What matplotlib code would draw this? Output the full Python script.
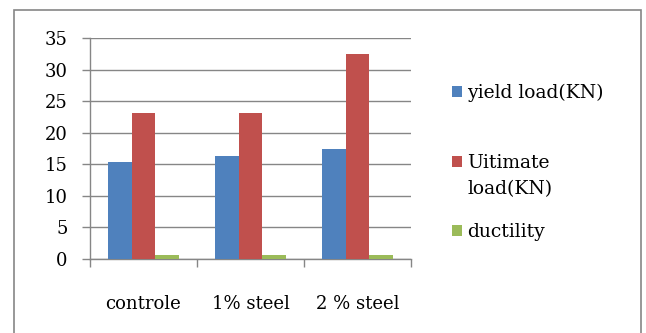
import matplotlib
matplotlib.use("Agg")
import matplotlib.pyplot as plt
from matplotlib.patches import Rectangle
import numpy as np

categories = ["controle", "1% steel", "2 % steel"]
yield_load = [15.3, 16.3, 17.5]
ultimate_load = [23.2, 23.2, 32.5]
ductility = [0.7, 0.7, 0.7]
series_labels = ["yield load(KN)", "Uitimate", "ductility"]

blue = "#4F81BD"
red = "#C0504D"
green = "#9BBB59"
gray = "#868686"

plt.rcParams["font.family"] = ["DejaVu Serif"]
plt.rcParams["font.size"] = 13

fig = plt.figure(figsize=(6.46, 3.33), dpi=100)
ax = fig.add_axes([90 / 646, 1 - 259 / 333, (411 - 90) / 646, (259 - 38) / 333])

width = 1 / 4.5
x = np.arange(len(categories))
bars = []
for offset, vals, color in zip([-width, 0, width], [yield_load, ultimate_load, ductility], [blue, red, green]):
    bars.append(ax.bar(x + offset, vals, width, color=color, zorder=3))

ax.set_xlim(-0.5, len(categories) - 0.5)
ax.set_ylim(0, 35)
ax.set_yticks(range(0, 36, 5))
ax.yaxis.grid(True, color=gray, linewidth=1)
ax.set_axisbelow(True)

ax.set_xticks(x)
ax.set_xticklabels(categories)
ax.set_xticks(np.arange(-0.5, len(categories)), minor=True)
ax.tick_params(axis="x", which="major", length=0, pad=26)
ax.tick_params(axis="x", which="minor", length=6, color=gray, width=1)
ax.tick_params(axis="y", length=6, color=gray, width=1, pad=10)

for side in ["top", "right"]:
    ax.spines[side].set_visible(False)
for side in ["left", "bottom"]:
    ax.spines[side].set_color(gray)
    ax.spines[side].set_linewidth(1)

leg = fig.legend([b[0] for b in bars], series_labels, loc="upper left",
                 bbox_to_anchor=(452 / 646, 1 - 84 / 333), frameon=False,
                 fontsize=13.5,
                 handlelength=0.55, handleheight=0.55, handletextpad=0.25,
                 labelspacing=2.75, borderaxespad=0, borderpad=0)

fig.canvas.draw()
bb = leg.get_texts()[1].get_window_extent().transformed(fig.transFigure.inverted())
fig.text(bb.x0, bb.y0 - 0.025, "load(KN)", va="top", ha="left", fontsize=13.5)

fig.patches.append(Rectangle((14 / 646, -0.02), (641 - 14) / 646, 1 - 10 / 333 + 0.02,
                             transform=fig.transFigure, fill=False,
                             edgecolor=gray, linewidth=1.2))

fig.savefig("out.png", dpi=100)
